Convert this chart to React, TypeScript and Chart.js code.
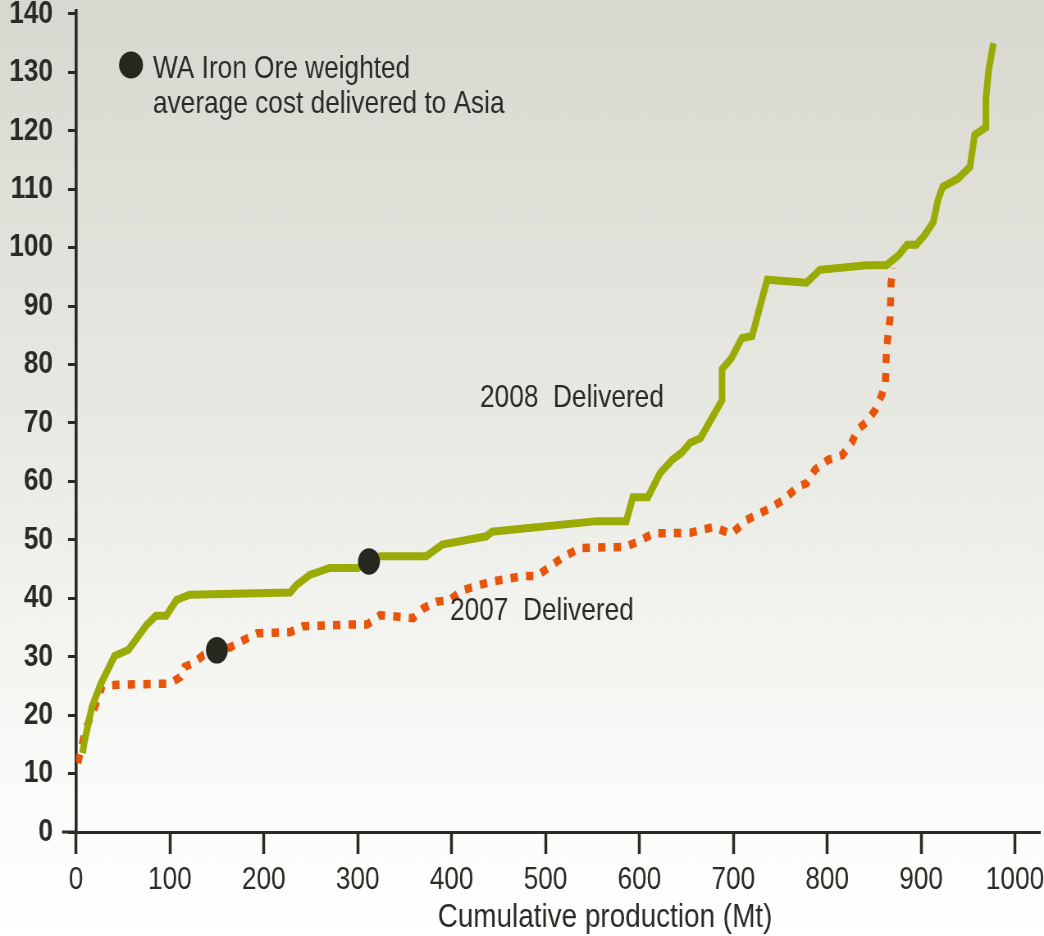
import React, { useEffect, useRef } from "react";
import { Chart, registerables } from "chart.js";

Chart.register(...registerables);

const xTickValues = [0, 100, 200, 300, 400, 500, 600, 700, 800, 900, 1000];
const yTickValues = [0, 10, 20, 30, 40, 50, 60, 70, 80, 90, 100, 110, 120, 130, 140];

const delivered2008X = [7, 9, 17, 26, 41, 56, 75, 85, 96, 107, 121, 228, 235, 249, 270, 300, 324, 373, 390, 437, 443, 555, 586, 593, 609, 622, 635, 645, 654, 665, 688, 688, 698, 709, 720, 736, 778, 792, 842, 863, 876, 885, 895, 904, 913, 918, 923, 939, 952, 957, 969, 969, 972, 977];
const delivered2008Y = [13.5, 15.5, 21.4, 25.2, 30.1, 31.2, 35.4, 37.0, 37.0, 39.7, 40.6, 41.0, 42.3, 44.0, 45.2, 45.2, 47.2, 47.2, 49.2, 50.6, 51.4, 53.2, 53.2, 57.3, 57.3, 61.4, 63.7, 64.9, 66.6, 67.4, 73.9, 79.2, 81.1, 84.5, 84.9, 94.5, 94.0, 96.2, 97.0, 97.0, 98.7, 100.5, 100.5, 102.2, 104.4, 108.2, 110.4, 111.8, 113.8, 119.3, 120.6, 125.6, 130.4, 135.0];

const delivered2007X = [2, 10, 20, 28, 44, 100, 111, 116, 125, 136, 150, 164, 178, 193, 228, 242, 292, 310, 324, 359, 370, 384, 398, 412, 441, 476, 491, 519, 537, 585, 597, 615, 654, 679, 698, 714, 739, 753, 768, 778, 787, 801, 816, 826, 832, 842, 851, 858, 862, 863, 867, 868, 870];
const delivered2007Y = [11.8, 17.5, 21.4, 25.0, 25.2, 25.4, 26.5, 28.3, 28.9, 30.3, 31.1, 31.6, 32.8, 34.0, 34.2, 35.2, 35.5, 35.5, 37.1, 36.6, 38.3, 39.4, 39.7, 41.4, 42.8, 43.8, 43.8, 47.1, 48.6, 48.8, 49.6, 51.1, 51.2, 52.2, 51.0, 53.4, 55.4, 56.8, 59.0, 59.7, 62.0, 63.7, 64.5, 66.6, 68.8, 70.2, 72.2, 74.8, 77.0, 82.5, 88.1, 94.0, 96.5];

const markerX = [312, 150];
const markerY = [46.3, 31.1];

const legendLines = ["WA Iron Ore weighted", "average cost delivered to Asia"];
const label2008 = "2008  Delivered";
const label2007 = "2007  Delivered";
const xTitle = "Cumulative production (Mt)";

const GREEN = "#9aab05";
const ORANGE = "#e8550a";
const AXIS = "#2b2b26";
const TEXT = "#2a2b25";
const DOT = "#26271f";
const FONT = '"Liberation Sans", Arial, sans-serif';

// The canvas is drawn wider and displayed at 1044px, giving the condensed look of the original.
const VIEW_W = 1044;
const VIEW_H = 936;
const CANVAS_W = 1273;
const S = VIEW_W / CANVAS_W;
const ix = (screenX: number) => screenX / S;

const toPoints = (xs: number[], ys: number[]) => xs.map((x, i) => ({ x, y: ys[i] }));

const backgroundPlugin = {
  id: "bgGradient",
  beforeDraw(chart: any) {
    const { ctx, width, height } = chart;
    const g = ctx.createLinearGradient(0, 0, 0, height);
    g.addColorStop(0, "#d8d8d0");
    g.addColorStop(0.45, "#e9e9e3");
    g.addColorStop(0.85, "#fbfbfa");
    g.addColorStop(1, "#ffffff");
    ctx.save();
    ctx.fillStyle = g;
    ctx.fillRect(0, 0, width, height);
    ctx.restore();
  },
};

const annotationPlugin = {
  id: "annotations",
  afterDraw(chart: any) {
    const { ctx } = chart;
    const x = chart.scales.x;
    const y = chart.scales.y;
    ctx.save();
    ctx.strokeStyle = AXIS;
    ctx.lineWidth = 3;
    const y0 = y.getPixelForValue(0);
    ctx.beginPath();
    ctx.moveTo(x.left - ix(14), y0);
    ctx.lineTo(x.left, y0);
    ctx.stroke();

    ctx.fillStyle = DOT;
    ctx.beginPath();
    ctx.ellipse(ix(131), 65, ix(12), 13.5, 0, 0, Math.PI * 2);
    ctx.fill();

    ctx.fillStyle = TEXT;
    ctx.textBaseline = "middle";
    ctx.textAlign = "left";
    ctx.font = `32px ${FONT}`;
    ctx.fillText(legendLines[0], ix(153), 69);
    ctx.fillText(legendLines[1], ix(153), 104);
    ctx.fillText(label2008, ix(480), 398);
    ctx.fillText(label2007, ix(450), 611);

    ctx.textAlign = "center";
    ctx.font = `34px ${FONT}`;
    ctx.fillText(xTitle, ix(605), 918);
    ctx.restore();
  },
};

const TARGET = { left: ix(76), right: ix(1040), top: 11, bottom: 832 };

export default function App() {
  const ref = useRef<HTMLCanvasElement>(null);

  useEffect(() => {
    const canvas = ref.current;
    if (!canvas) return;
    const chart = new Chart(canvas, {
      type: "line",
      data: {
        datasets: [
          {
            label: "WA Iron Ore weighted average cost delivered to Asia",
            data: toPoints(markerX, markerY),
            showLine: false,
            pointRadius: 13.3,
            pointHoverRadius: 13.3,
            pointBackgroundColor: DOT,
            pointBorderWidth: 0,
            order: 0,
          },
          {
            label: label2008,
            data: toPoints(delivered2008X, delivered2008Y),
            borderColor: GREEN,
            borderWidth: 8,
            pointRadius: 0,
            pointHoverRadius: 0,
            tension: 0,
            fill: false,
            order: 1,
          },
          {
            label: label2007,
            data: toPoints(delivered2007X, delivered2007Y),
            borderColor: ORANGE,
            borderWidth: 8.5,
            borderDash: [9, 10],
            borderCapStyle: "butt",
            pointRadius: 0,
            pointHoverRadius: 0,
            tension: 0,
            fill: false,
            order: 2,
          },
        ] as any,
      },
      options: {
        responsive: false,
        animation: false,
        devicePixelRatio: 1,
        events: [],
        layout: { autoPadding: false, padding: { top: TARGET.top, right: CANVAS_W - TARGET.right, left: 0, bottom: 0 } },
        plugins: { legend: { display: false }, tooltip: { enabled: false } },
        scales: {
          x: {
            type: "linear",
            min: 0,
            max: 1026.6,
            afterBuildTicks: (s: any) => {
              s.ticks = xTickValues.map((v) => ({ value: v }));
            },
            afterFit: (s: any) => {
              s.height = VIEW_H - TARGET.bottom;
              s.paddingLeft = 0;
              s.paddingRight = 0;
            },
            grid: { drawOnChartArea: false, drawTicks: true, tickLength: 22, tickWidth: 3.5, tickColor: AXIS },
            border: { display: true, color: AXIS, width: 3 },
            ticks: {
              autoSkip: false,
              maxRotation: 0,
              minRotation: 0,
              padding: 7,
              color: TEXT,
              font: { family: FONT, size: 32 },
              callback: (v: any) => String(v),
            },
          },
          y: {
            type: "linear",
            min: 0,
            max: 140.5,
            afterBuildTicks: (s: any) => {
              s.ticks = yTickValues.map((v) => ({ value: v }));
            },
            afterFit: (s: any) => {
              s.width = TARGET.left;
              s.paddingTop = 0;
              s.paddingBottom = 0;
            },
            grid: { drawOnChartArea: false, drawTicks: true, tickLength: ix(8), tickWidth: 3, tickColor: AXIS },
            border: { display: true, color: AXIS, width: 3.6 },
            ticks: {
              autoSkip: false,
              padding: ix(15),
              color: TEXT,
              font: { family: FONT, size: 32, weight: "bold" },
              callback: (v: any) => String(v),
            },
          },
        },
      } as any,
      plugins: [backgroundPlugin, annotationPlugin],
    });

    // nudge the layout padding so the plot area lands where the original's does
    for (let i = 0; i < 4; i++) {
      const ca = chart.chartArea;
      const dR = ca.right - TARGET.right;
      const dT = TARGET.top - ca.top;
      if (Math.abs(dR) < 0.3 && Math.abs(dT) < 0.3) break;
      const p: any = chart.options.layout!.padding;
      chart.options.layout!.padding = {
        top: p.top + dT,
        right: p.right + dR,
        left: 0,
        bottom: 0,
      } as any;
      chart.update();
    }

    return () => chart.destroy();
  }, []);

  return (
    <div style={{ position: "absolute", left: 0, top: 0, width: VIEW_W, height: VIEW_H }}>
      <canvas
        ref={ref}
        width={CANVAS_W}
        height={VIEW_H}
        style={{ display: "block", width: VIEW_W, height: VIEW_H }}
      />
    </div>
  );
}
